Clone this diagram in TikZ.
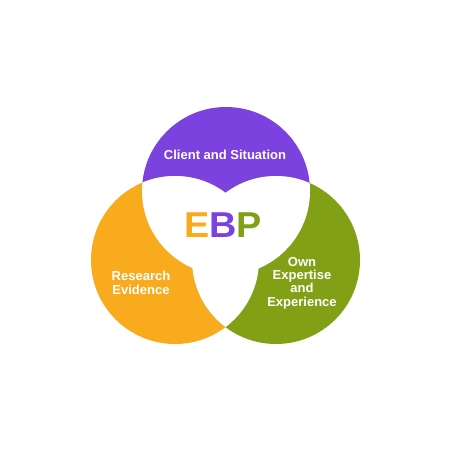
\documentclass[tikz,border=0pt]{standalone}
\usepackage{fontspec}
\setmainfont{Liberation Sans}
\definecolor{clientpurple}{RGB}{123,66,224}
\definecolor{researchorange}{RGB}{249,171,30}
\definecolor{expertgreen}{RGB}{130,160,22}
\begin{document}
\begin{tikzpicture}
[x=1pt,y=-1pt,
  circlelabel/.style={text=white,align=center,inner sep=0pt,%
    font=\bfseries\fontsize{13}{13.4}\selectfont},%
  ebplabel/.style={inner sep=0pt,xscale=1.05,font=\bfseries\fontsize{36}{36}\selectfont}]
\useasboundingbox[fill=white] (0,0) rectangle (450,470);
% centres of the circles
\coordinate (client) at (226,191);
\coordinate (research) at (175,260);
\coordinate (expert) at (276,260);
\def\rad{84}
% circles
\fill[clientpurple] (client) circle (\rad);
\fill[researchorange] (research) circle (\rad);
\fill[expertgreen] (expert) circle (\rad);
% overlaps in white
\begin{scope}
\clip (client) circle (\rad);
\fill[white] (research) circle (\rad);
\fill[white] (expert) circle (\rad);
\end{scope}
\begin{scope}
\clip (research) circle (\rad);
\fill[white] (expert) circle (\rad);
\end{scope}
% labels
\node (clienttext) at (225,155) [circlelabel] {Client and Situation};
\node (researchtext) at (141,283) [circlelabel] {Research\\Evidence};
\node (experttext) at (302,283) [circlelabel] {Own\\Expertise\\and\\Experience};
\node (ebp) at (223,225) [ebplabel] {\textcolor{researchorange}{E}\textcolor{clientpurple}{B}\textcolor{expertgreen}{P}};
\end{tikzpicture}
\end{document}
